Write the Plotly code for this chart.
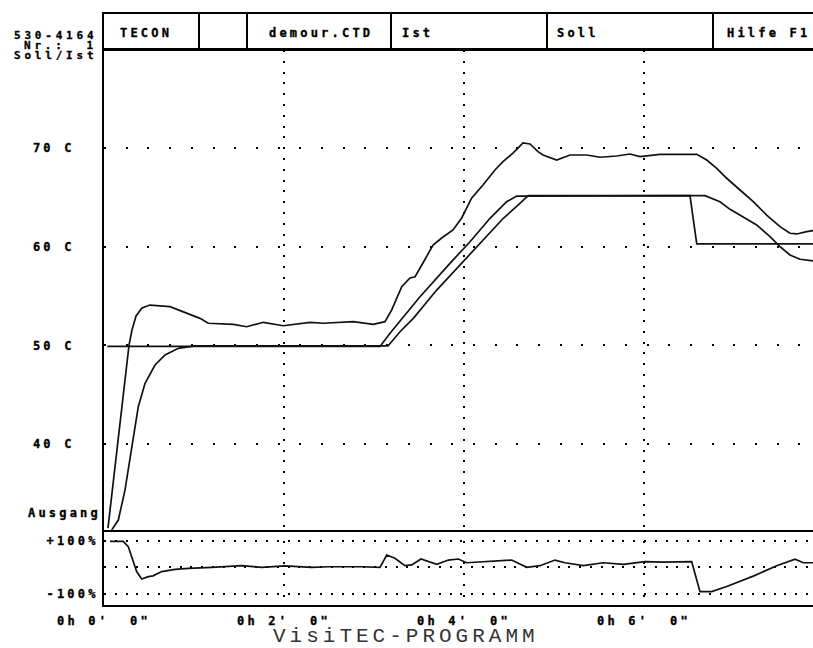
import plotly.graph_objects as go

# ---------------- data (minutes, °C, %) ----------------
ist_t = [0.044, 0.10, 0.156, 0.211, 0.256, 0.278, 0.311, 0.356, 0.422, 0.511,
         0.733, 0.881, 1.067, 1.159, 1.437, 1.586, 1.770, 1.992, 2.289, 2.437,
         2.770, 2.992, 3.122, 3.197, 3.308, 3.400, 3.456, 3.544, 3.656, 3.752,
         3.878, 3.974, 4.086, 4.211, 4.344, 4.433, 4.544, 4.656, 4.733, 4.822,
         4.878, 5.030, 5.086, 5.178, 5.363, 5.511, 5.697, 5.844, 5.956, 6.178,
         6.586, 6.697, 6.808, 6.919, 7.067, 7.214, 7.363, 7.511, 7.622, 7.697,
         7.808, 7.878]
ist_T = [31.47, 35.84, 40.10, 44.47, 48.02, 50.04, 51.57, 52.99, 53.80, 54.10,
         53.93, 53.42, 52.75, 52.25, 52.14, 51.90, 52.35, 52.00, 52.35, 52.25,
         52.41, 52.14, 52.41, 53.60, 55.96, 56.84, 56.97, 58.36, 60.19, 60.90,
         61.71, 62.93, 64.96, 66.28, 67.80, 68.64, 69.52, 70.54, 70.44, 69.66,
         69.32, 68.81, 68.99, 69.32, 69.32, 69.09, 69.22, 69.42, 69.15, 69.39,
         69.39, 68.81, 67.97, 66.96, 65.77, 64.58, 63.23, 62.05, 61.38, 61.31,
         61.54, 61.64]

soll_t = [0.037, 3.067, 3.178, 3.511, 3.844, 4.067, 4.289, 4.474, 4.586, 6.511, 6.586, 7.878]
soll_T = [49.9, 49.9, 51.23, 54.94, 58.33, 60.52, 62.90, 64.58, 65.15, 65.2, 60.3, 60.3]

kern_t = [0.086, 0.159, 0.233, 0.308, 0.381, 0.456, 0.567, 0.678, 0.826, 1.011,
          3.156, 3.289, 3.437, 3.697, 3.992, 4.214, 4.437, 4.603, 4.714, 6.678,
          6.733, 6.844, 6.956, 7.103, 7.252, 7.400, 7.511, 7.622, 7.733, 7.878]
kern_T = [31.28, 32.29, 35.33, 39.73, 43.79, 46.16, 48.02, 49.03, 49.71, 49.95,
          49.95, 51.39, 52.75, 55.62, 58.50, 60.70, 62.90, 64.25, 65.19, 65.2,
          64.99, 64.58, 63.81, 63.06, 62.22, 61.03, 60.02, 59.18, 58.74, 58.57]

out_t = [0.067, 0.214, 0.27, 0.326, 0.363, 0.419, 0.492, 0.544, 0.641, 0.789,
         0.937, 1.197, 1.53, 1.752, 2.011, 2.308, 2.492, 2.863, 3.067, 3.141,
         3.233, 3.344, 3.419, 3.522, 3.603, 3.697, 3.826, 3.937, 4.03, 4.214,
         4.53, 4.697, 4.844, 5.011, 5.122, 5.326, 5.548, 5.77, 6.011, 6.214,
         6.53, 6.622, 6.752, 6.919, 7.214, 7.474, 7.678, 7.77, 7.878]
out_pct = [97, 97, 77, 21, -16, -44, -35, -32, -16, -8,
           -4, 0, 6, 0, 5, 0, 2, 2, 0, 46,
           34, 6, 9, 31, 21, 11, 27, 31, 17, 21,
           27, 0, 6, 27, 17, 6, 17, 11, 21, 19,
           21, -91, -91, -72, -33, 6, 30, 17, 17]

temp_ticks = [40, 50, 60, 70]
temp_labels = ["40 C", "50 C", "60 C", "70 C"]
out_ticks = [-100, 0, 100]
out_labels = ["-100%", "", "+100%"]
time_ticks = [0, 2, 4, 6]
time_labels = ["0h 0'  0\"", "0h 2'  0\"", "0h 4'  0\"", "0h 6'  0\""]
header_cells = ["TECON", "demour.CTD", "Ist", "Soll", "Hilfe F1"]
left_info = ["530-4164", "Nr.:  1", "Soll/Ist"]

# ---------------- layout helpers ----------------
W, H = 813, 648
L, R, T, B = 104, 0, 50, 43
PW, PH = W - L - R, H - T - B
def px_x(p): return (p - L) / PW
def px_y(p): return (H - B - p) / PH

LS = 3.2
def sp(txt, ls=LS, stroke=0.35):
    st = "letter-spacing:%spx" % ls
    if stroke:
        st += ";stroke:#000000;stroke-width:%spx" % stroke
    return '<span style="%s">%s</span>' % (st, txt.replace(" ", "\u00a0"))

FONT = "DejaVu Sans Mono"
bold = dict(family=FONT, size=12, color="black", weight="bold")
bold_small = dict(family=FONT, size=11, color="black", weight="bold")
line_style = dict(color="#111111", width=1.7)

fig = go.Figure()
fig.add_trace(go.Scatter(x=ist_t, y=ist_T, mode="lines", line=line_style, name="Ist", xaxis="x", yaxis="y"))
fig.add_trace(go.Scatter(x=soll_t, y=soll_T, mode="lines", line=line_style, name="Soll", xaxis="x", yaxis="y"))
fig.add_trace(go.Scatter(x=kern_t, y=kern_T, mode="lines", line=line_style, name="Ist 2", xaxis="x", yaxis="y"))
fig.add_trace(go.Scatter(x=out_t, y=out_pct, mode="lines", line=line_style, name="Ausgang", xaxis="x2", yaxis="y2"))

xr = [0, PW / 90.0]
split = (H - B - 530) / PH

common_axis = dict(showline=True, linecolor="black", linewidth=2, zeroline=False,
                   ticks="", gridcolor="black", gridwidth=2, showgrid=True)

fig.update_layout(
    width=W, height=H, margin=dict(l=L, r=R, t=T, b=B),
    paper_bgcolor="white", plot_bgcolor="white", showlegend=False,
    xaxis=dict(domain=[0, 1], range=xr, anchor="y", tickvals=time_ticks,
               showticklabels=False, griddash="2px,8.8px", mirror=True, **common_axis),
    yaxis=dict(domain=[split, 1], range=[31.28, 79.97], anchor="x",
               tickvals=temp_ticks, ticktext=[sp(t) for t in temp_labels],
               tickfont=bold, ticklabelstandoff=25, griddash="2px,19.7px", **common_axis),
    xaxis2=dict(domain=[0, 1], range=xr, anchor="y2", tickvals=time_ticks,
                ticktext=[sp(t) for t in time_labels], tickfont=bold,
                ticklabelstandoff=4, griddash="2px,8.8px", **common_axis),
    yaxis2=dict(domain=[0, split], range=[-140.9, 139.4], anchor="x2",
                tickvals=out_ticks, ticktext=[sp(t) for t in out_labels],
                tickfont=bold, ticklabelstandoff=1, griddash="2px,8.8px", **common_axis),
)

# header frame
shapes = []
ln = dict(color="black", width=2)
shapes.append(dict(type="line", xref="paper", yref="paper", x0=px_x(102), x1=px_x(830),
                   y0=px_y(13), y1=px_y(13), line=ln))
shapes.append(dict(type="line", xref="paper", yref="paper", x0=px_x(102), x1=px_x(830),
                   y0=px_y(50), y1=px_y(50), line=ln))
for xp in [103, 199, 247, 391, 547, 713]:
    shapes.append(dict(type="line", xref="paper", yref="paper", x0=px_x(xp), x1=px_x(xp),
                       y0=px_y(13), y1=px_y(50), line=ln))
fig.update_layout(shapes=shapes)

ann = []
for txt, xp in zip(header_cells, [118, 267, 400, 555, 725]):
    ann.append(dict(text=sp(txt), xref="paper", yref="paper", x=px_x(xp), y=px_y(33),
                    xanchor="left", yanchor="middle", showarrow=False, font=bold))
for txt, yp in zip(left_info, [34.5, 44.5, 54.5]):
    ann.append(dict(text=sp(txt, 3.8, 0.3), xref="paper", yref="paper", x=px_x(97.5), y=px_y(yp),
                    xanchor="right", yanchor="middle", showarrow=False, font=bold_small,
                    borderpad=0, height=10))
ann.append(dict(text=sp("Ausgang"), xref="paper", yref="paper", x=px_x(101.5), y=px_y(513),
                xanchor="right", yanchor="middle", showarrow=False, font=bold, borderpad=0))
ann.append(dict(text=sp("VisiTEC-PROGRAMM", 4.0, 0), xref="paper", yref="paper",
                x=px_x(406), y=px_y(647.5), xanchor="center", yanchor="bottom", showarrow=False,
                height=20, borderpad=0,
                font=dict(family="Courier New, Liberation Mono, monospace", size=21, color="#333333")))
fig.update_layout(annotations=ann)

fig.write_html("out.html", config={"displayModeBar": False},
               post_script="document.body.style.margin='0';document.body.style.overflow='hidden';")
